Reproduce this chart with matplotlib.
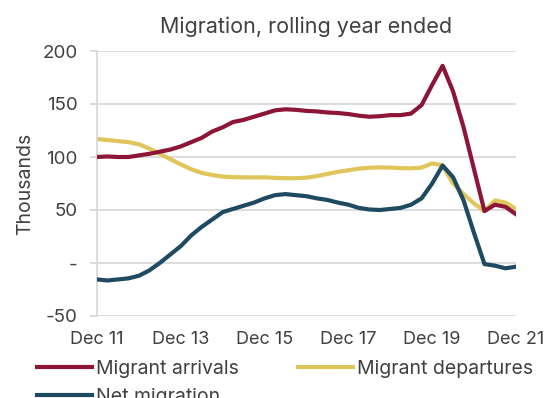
import numpy as np
import pandas as pd
import matplotlib
matplotlib.use('Agg')
import matplotlib.pyplot as plt
import matplotlib.dates as mdates

plt.rcParams['font.family'] = ['Inter', 'DejaVu Sans']

# quarterly, rolling year ended, thousands
dates = pd.date_range('2011-12-31', '2021-12-31', freq='QE-DEC')

arrivals = [100, 100.5, 100, 100, 101.5, 103, 105, 107, 110, 114,
            118, 124, 128, 133, 135, 138, 141, 144, 145, 144.5,
            143.5, 143, 142, 141.5, 140.5, 139, 138, 138.5, 139.5, 139.5,
            141, 149, 168, 186, 162, 128, 88, 49, 55, 53, 46]

departures = [117, 116, 115, 114, 112, 108, 103, 98, 93, 88.5,
              85, 83, 81.5, 81, 80.8, 80.8, 80.8, 80.3, 80, 80,
              80.5, 82, 84, 86, 87.5, 89, 89.8, 90.2, 90, 89.5,
              89.3, 90, 94, 92, 75, 65, 56, 49, 59, 57, 51]

net = [-15.5, -16.5, -15.5, -14.5, -12, -7, 0, 8, 16, 26,
       34, 41, 48, 51, 54, 57, 61, 64, 65, 64,
       63, 61, 59.5, 57, 55, 52, 50.5, 50, 51, 52,
       55, 61, 75, 92, 81, 59, 28, -1, -2.5, -5, -3.5]

tick_dates = pd.to_datetime(['2011-12-31', '2013-12-31', '2015-12-31',
                             '2017-12-31', '2019-12-31', '2021-12-31'])
yticks = [-50, 0, 50, 100, 150, 200]
ylabels = ['-50', '-', '50', '100', '150', '200']

txt = '#404040'
grid = '#d9d9d9'

fig = plt.figure(figsize=(5.46, 3.98), dpi=100)
ax = fig.add_axes([97/546, 1-316/398, (516-97)/546, (316-51)/398])

l1, = ax.plot(dates, arrivals, color='#8c1538', lw=3, label='Migrant arrivals', zorder=3)
l2, = ax.plot(dates, departures, color='#dfc55a', lw=3, label='Migrant departures', zorder=2)
l3, = ax.plot(dates, net, color='#1e4a62', lw=3, label='Net migration', zorder=4)

ax.set_xlim(tick_dates[0], tick_dates[-1])
ax.set_ylim(-50, 200)
ax.set_yticks(yticks)
ax.set_yticklabels(ylabels)
ax.set_xticks(tick_dates)
ax.xaxis.set_major_formatter(mdates.DateFormatter('Dec %y'))

ax.grid(axis='y', color=grid, lw=1.3)
for s in ['top', 'right', 'bottom']:
    ax.spines[s].set_visible(False)
ax.spines['left'].set_color(grid)
ax.spines['left'].set_linewidth(1.3)
ax.tick_params(axis='y', length=5, color=grid, width=1.3, pad=9, labelsize=13.5, labelcolor=txt)
ax.tick_params(axis='x', length=0, pad=11, labelsize=13, labelcolor=txt)

ax.set_title('Migration, rolling year ended', fontsize=15.5, color=txt, pad=13)
ax.set_ylabel('Thousands', fontsize=14, color=txt, labelpad=6)

fig.legend([l1, l3, l2], [l1.get_label(), l3.get_label(), l2.get_label()],
           loc='upper left', bbox_to_anchor=(37/546, 1-360/398), ncol=2,
           frameon=False, fontsize=14, labelcolor=txt, handlelength=2.85,
           handletextpad=0.2, columnspacing=3.0, borderpad=0, borderaxespad=0,
           labelspacing=0.5)

fig.savefig('out.png', dpi=100)
